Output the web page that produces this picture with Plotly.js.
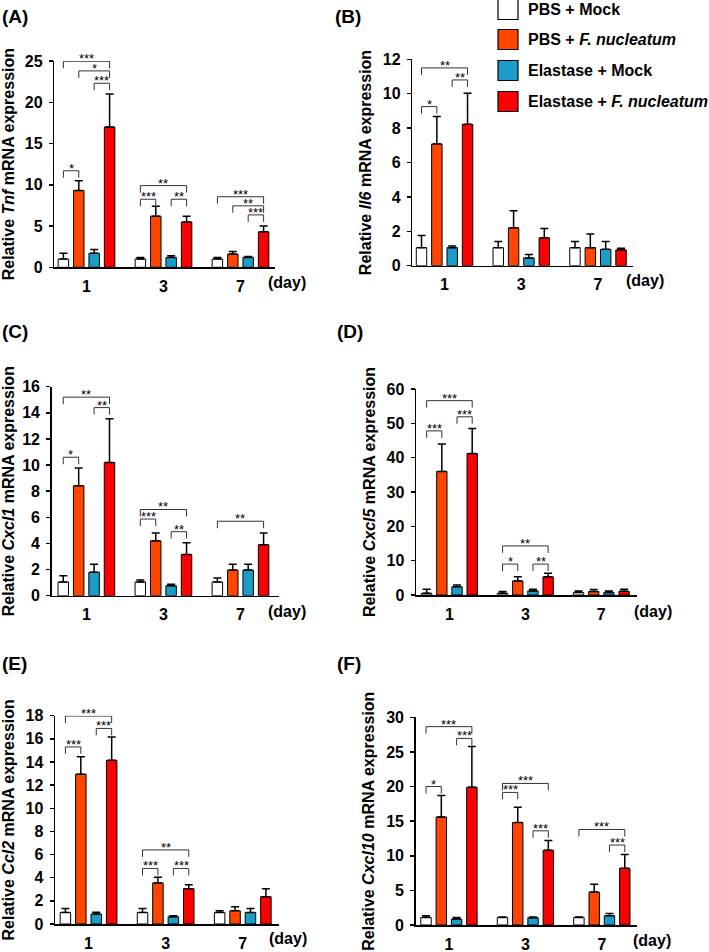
<!DOCTYPE html>
<html><head><meta charset="utf-8">
<script src="https://cdn.plot.ly/plotly-3.0.1.min.js"></script>
<style>html,body{margin:0;padding:0;background:#fff}#chart{width:709px;height:952px}</style>
</head><body><div id="chart"></div>
<script>
// ---------- DATA ----------
const days = ['1', '3', '7'];
const seriesNames = ['PBS + Mock', 'PBS + <i>F. nucleatum</i>', 'Elastase + Mock', 'Elastase + <i>F. nucleatum</i>'];
const seriesColors = ['#FFFFFF', '#FF4500', '#1A9DC8', '#FF0000'];
const genes = ['Tnf', 'Il6', 'Cxcl1', 'Cxcl5', 'Ccl2', 'Cxcl10'];
const panelLetters = ['(A)', '(B)', '(C)', '(D)', '(E)', '(F)'];
const yMax = [25, 12, 16, 60, 18, 30];
const yStep = [5, 2, 2, 10, 2, 5];

// mean[series][day], err[series][day] (upper SD)
const tnfMean = [[1.0, 1.0, 1.0], [9.3, 6.2, 1.6], [1.7, 1.2, 1.2], [17.0, 5.5, 4.3]];
const tnfErr = [[0.7, 0.2, 0.2], [1.2, 1.2, 0.3], [0.45, 0.2, 0.1], [4.0, 0.7, 0.7]];
const il6Mean = [[1.05, 1.05, 1.05], [7.08, 2.2, 1.05], [1.05, 0.45, 0.95], [8.22, 1.62, 0.92]];
const il6Err = [[0.7, 0.35, 0.35], [1.6, 1.0, 0.8], [0.1, 0.2, 0.45], [1.8, 0.55, 0.1]];
const cxcl1Mean = [[1.05, 1.05, 1.05], [8.42, 4.2, 1.96], [1.8, 0.76, 1.96], [10.2, 3.16, 3.9]];
const cxcl1Err = [[0.48, 0.15, 0.3], [1.35, 0.6, 0.44], [0.6, 0.12, 0.44], [3.35, 0.9, 0.9]];
const cxcl5Mean = [[0.5, 0.5, 0.7], [36.0, 4.1, 1.0], [2.4, 1.2, 0.7], [41.2, 5.3, 1.1]];
const cxcl5Err = [[1.2, 0.5, 0.5], [8.0, 1.2, 0.6], [0.5, 0.5, 0.5], [7.3, 1.0, 0.6]];
const ccl2Mean = [[1.0, 1.0, 1.0], [12.95, 3.55, 1.15], [0.86, 0.63, 1.0], [14.15, 3.05, 2.36]];
const ccl2Err = [[0.35, 0.35, 0.15], [1.5, 0.5, 0.35], [0.15, 0.08, 0.35], [2.0, 0.35, 0.68]];
const cxcl10Mean = [[1.1, 1.1, 1.1], [15.6, 14.8, 4.75], [0.85, 1.05, 1.35], [19.9, 10.8, 8.2]];
const cxcl10Err = [[0.25, 0.05, 0.05], [3.1, 2.2, 1.15], [0.25, 0.1, 0.3], [5.9, 1.4, 2.0]];

// significance brackets: [dayIndex, seriesA, seriesB, level, label]
const tnfSig = [[0,0,3,24.97,'***'],[0,1,3,23.8,'*'],[0,2,3,22.3,'***'],[0,0,1,11.7,'*'],[1,0,3,9.9,'**'],[1,0,1,8.25,'***'],[1,2,3,8.25,'**'],[2,0,3,8.55,'***'],[2,1,3,7.45,'**'],[2,2,3,6.35,'***']];
const il6Sig = [[0,0,3,11.5,'**'],[0,2,3,10.8,'**'],[0,0,1,9.25,'*']];
const cxcl1Sig = [[0,0,3,15.2,'**'],[0,2,3,14.4,'**'],[0,0,1,10.6,'*'],[1,0,3,6.6,'**'],[1,0,1,5.87,'***'],[1,2,3,4.9,'**'],[2,0,3,5.7,'**']];
const cxcl5Sig = [[0,0,3,56.6,'***'],[0,2,3,51.9,'***'],[0,0,1,47.8,'***'],[1,0,3,14.3,'**'],[1,0,1,9.0,'*'],[1,2,3,9.0,'**']];
const ccl2Sig = [[0,0,3,17.97,'***'],[0,2,3,16.9,'***'],[0,0,1,15.3,'***'],[1,0,3,6.4,'**'],[1,0,1,4.8,'***'],[1,2,3,4.8,'***']];
const cxcl10Sig = [[0,0,3,28.65,'***'],[0,2,3,26.95,'***'],[0,0,1,20.0,'*'],[1,0,3,20.45,'***'],[1,0,1,19.15,'***'],[1,2,3,13.6,'***'],[2,0,3,13.8,'***'],[2,2,3,11.55,'***']];

const means = [tnfMean, il6Mean, cxcl1Mean, cxcl5Mean, ccl2Mean, cxcl10Mean];
const errs = [tnfErr, il6Err, cxcl1Err, cxcl5Err, ccl2Err, cxcl10Err];
const sigs = [tnfSig, il6Sig, cxcl1Sig, cxcl5Sig, ccl2Sig, cxcl10Sig];

// ---------- LAYOUT GEOMETRY (pixels) ----------
const W = 709, H = 952;
const FONT = 'Arial, "Liberation Sans", Helvetica, sans-serif';
const geo = [
  {x0: 54.3, x1: 275, yt: 61, yb: 267.3, xr: [-0.418, 2.448], lab: [0, 16.5], day: [266, 282]},
  {x0: 412.3, x1: 633, yt: 59.3, yb: 265.7, xr: [-0.42, 2.456], lab: [333, 16.5], day: [624, 280]},
  {x0: 51.7, x1: 279, yt: 386.7, yb: 595.7, xr: [-0.45, 2.5], lab: [0, 331.5], day: [266, 611]},
  {x0: 416, x1: 637, yt: 389, yb: 595, xr: [-0.44, 2.47], lab: [335, 331.5], day: [632, 611]},
  {x0: 55, x1: 279, yt: 715.7, yb: 924, xr: [-0.435, 2.47], lab: [0, 663.5], day: [267, 938]},
  {x0: 415.7, x1: 637, yt: 717.3, yb: 925, xr: [-0.435, 2.46], lab: [335, 663.5], day: [631, 940]}
];
const px = v => v / W;
const py = v => 1 - v / H;
const BARGAP = 0.2, GROUPGAP = 0.32, NS = seriesNames.length;
const slot = (1 - BARGAP) / NS;
const barCenter = (d, s) => d + (s - (NS - 1) / 2) * slot;

const data = [];
const layout = {
  width: W, height: H,
  margin: {l: 0, r: 0, t: 0, b: 0},
  paper_bgcolor: '#fff', plot_bgcolor: 'rgba(0,0,0,0)',
  barmode: 'group', bargap: BARGAP, bargroupgap: GROUPGAP,
  showlegend: false,
  font: {family: FONT, color: '#000'},
  shapes: [], annotations: []
};

genes.forEach((g, p) => {
  const k = p === 0 ? '' : String(p + 1);
  const G = geo[p];
  for (let s = 0; s < NS; s++) {
    data.push({
      type: 'bar', x: days, y: means[p][s], name: seriesNames[s],
      xaxis: 'x' + k, yaxis: 'y' + k,
      marker: {color: seriesColors[s], line: {color: '#000', width: 1}},
      error_y: {type: 'data', symmetric: false, array: errs[p][s], arrayminus: [0, 0, 0],
                color: '#000', thickness: 1.5, width: 4},
      hoverinfo: 'skip'
    });
  }
  layout['xaxis' + k] = {
    domain: [px(G.x0), px(G.x1)], anchor: 'y' + k, type: 'category', range: G.xr,
    showline: true, linecolor: '#000', linewidth: 1.5, ticks: '', showgrid: false, zeroline: false,
    tickfont: {family: FONT, size: 16, color: '#000', weight: 'bold'}, ticklabelstandoff: 4,
    automargin: false, fixedrange: true
  };
  layout['yaxis' + k] = {
    domain: [py(G.yb), py(G.yt)], anchor: 'x' + k, range: [0, yMax[p]], tick0: 0, dtick: yStep[p],
    showline: true, linecolor: '#000', linewidth: 1.5, ticks: 'outside', ticklen: 4, tickwidth: 1.5, tickcolor: '#000',
    showgrid: false, zeroline: false, ticklabelstandoff: 3,
    tickfont: {family: FONT, size: 16, color: '#000', weight: 'bold'},
    title: {text: 'Relative <i>' + g + '</i> mRNA expression', font: {family: FONT, size: 16, color: '#000', weight: 'bold'}, standoff: 7},
    automargin: false, fixedrange: true
  };
  // panel label
  layout.annotations.push({xref: 'paper', yref: 'paper', x: px(G.lab[0]), y: py(G.lab[1]), xanchor: 'left', yanchor: 'middle',
    text: panelLetters[p], showarrow: false, font: {family: FONT, size: 19, color: '#000', weight: 'bold'}});
  // (day)
  layout.annotations.push({xref: 'paper', yref: 'paper', x: px(G.day[0]), y: py(G.day[1]), xanchor: 'left', yanchor: 'middle',
    text: '(day)', showarrow: false, font: {family: FONT, size: 16, color: '#000', weight: 'bold'}});
  // significance brackets
  const tick = 7 * yMax[p] / (G.yb - G.yt);
  sigs[p].forEach(([d, a, b, lvl, lab]) => {
    const xa = barCenter(d, a), xb = barCenter(d, b);
    const ref = {xref: 'x' + k, yref: 'y' + k, line: {color: '#333', width: 1}, layer: 'above'};
    layout.shapes.push(Object.assign({type: 'line', x0: xa, x1: xb, y0: lvl, y1: lvl}, ref));
    layout.shapes.push(Object.assign({type: 'line', x0: xa, x1: xa, y0: lvl, y1: lvl - tick}, ref));
    layout.shapes.push(Object.assign({type: 'line', x0: xb, x1: xb, y0: lvl, y1: lvl - tick}, ref));
    layout.annotations.push({xref: 'x' + k, yref: 'y' + k, x: (xa + xb) / 2, y: lvl, xanchor: 'center', yanchor: 'bottom',
      yshift: -6, borderpad: 0, text: lab, showarrow: false, font: {family: FONT, size: 13, color: '#000'}});
  });
});

// legend (custom, large swatches)
const legTop = [-0.5, 29.5, 60.5, 91.5];
seriesNames.forEach((n, s) => {
  layout.shapes.push({type: 'rect', xref: 'paper', yref: 'paper', x0: px(498), x1: px(518),
    y0: py(legTop[s] + 20), y1: py(legTop[s]), fillcolor: seriesColors[s], line: {color: '#000', width: 1.2}});
  layout.annotations.push({xref: 'paper', yref: 'paper', x: px(526), y: py(legTop[s] + 10.5), xanchor: 'left', yanchor: 'middle',
    text: n, showarrow: false, font: {family: FONT, size: 16, color: '#000', weight: 'bold'}});
});

Plotly.newPlot('chart', data, layout, {staticPlot: true, displayModeBar: false});
</script></body></html>
